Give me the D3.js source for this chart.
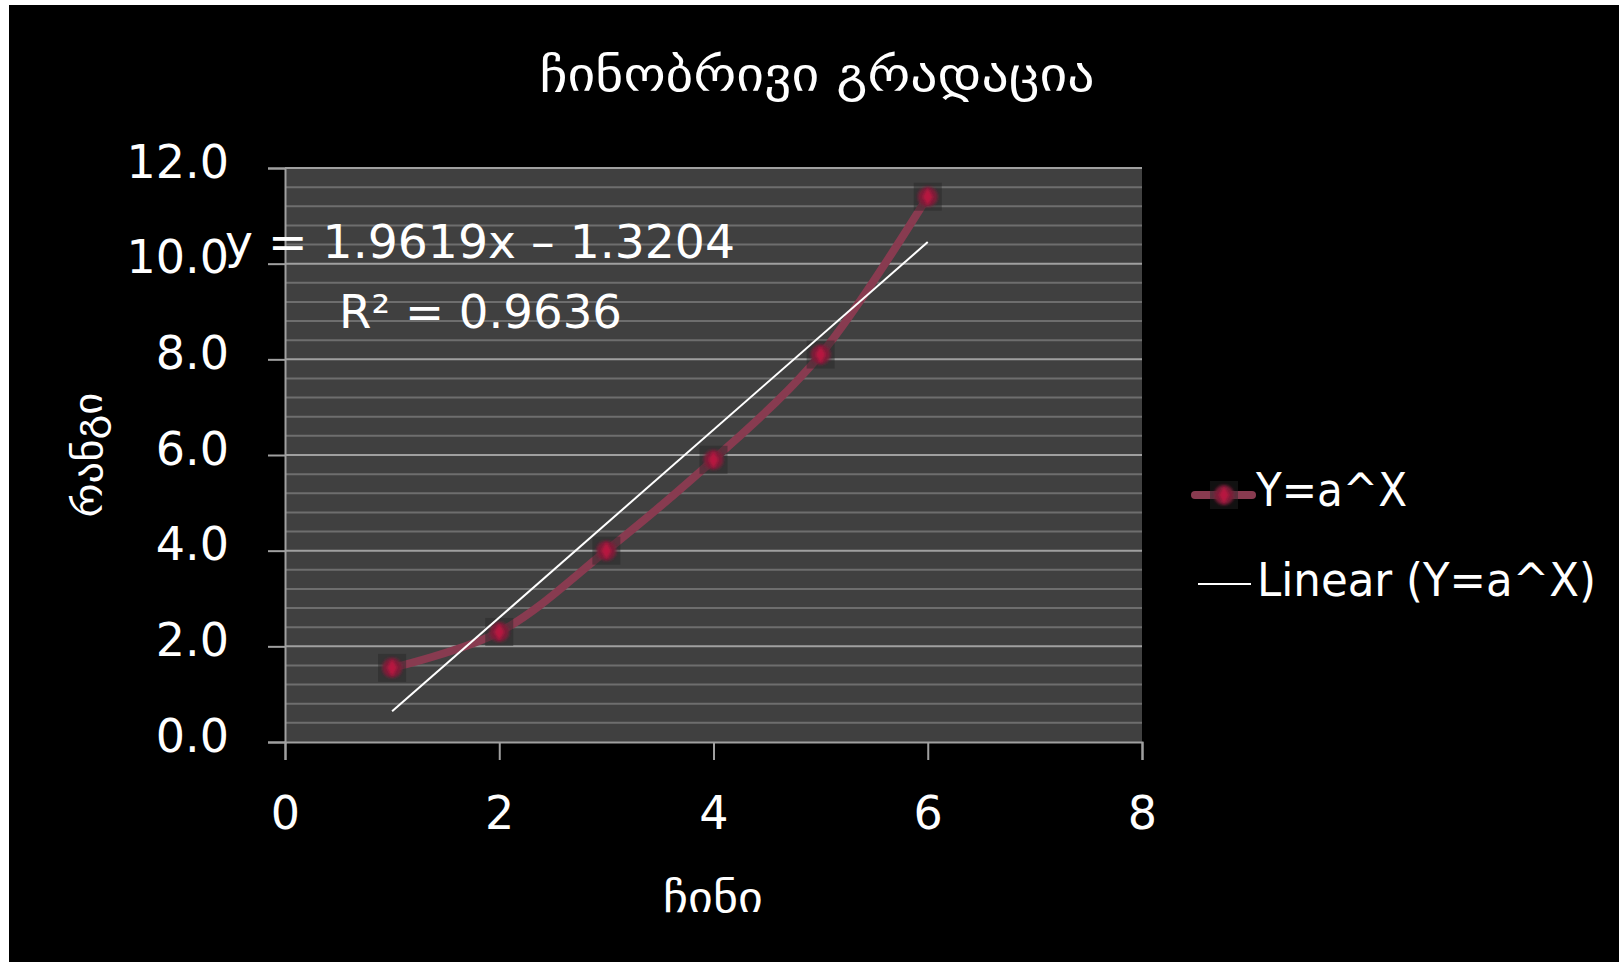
<!DOCTYPE html>
<html>
<head>
<meta charset="utf-8">
<script src="https://cdn.jsdelivr.net/npm/d3@7"></script>
<style>
  html, body { margin: 0; padding: 0; background: #ffffff; }
  svg { display: block; }
</style>
</head>
<body>
<svg id="chart" width="1619" height="962"></svg>
<script>
// ---- data ----
const xValues = [1, 2, 3, 4, 5, 6];
const yValues = [1.55, 2.3, 4.0, 5.9, 8.1, 11.4];
const seriesName = "Y=a^X";
const trendName = "Linear (Y=a^X)";
const trendSlope = 1.9619;
const trendIntercept = -1.3204;
const equationText = "y = 1.9619x – 1.3204";
const r2Text = "R² = 0.9636";
const yTicks = [0, 2, 4, 6, 8, 10, 12];
const xTicks = [0, 2, 4, 6, 8];
const titleText = "ჩინობრივი გრადაცია";
const xTitle = "ჩინი";
const yTitle = "რანგი";

// ---- layout ----
const svg = d3.select("#chart");
const W = 1619, H = 962;
const plot = { left: 285, right: 1142, top: 168, bottom: 742 };
const latin = "'DejaVu Sans', 'Open Sans', sans-serif";
const geo = "'DejaVu Sans', sans-serif";

const defs = svg.append("defs");
defs.append("filter").attr("id", "soft").attr("x", "-50%").attr("y", "-50%").attr("width", "200%").attr("height", "200%")
  .append("feGaussianBlur").attr("stdDeviation", 1.6);

svg.append("rect").attr("x", 9).attr("y", 5).attr("width", W - 9).attr("height", H - 5).attr("fill", "#000");

const x = d3.scaleLinear().domain([0, 8]).range([plot.left, plot.right]);
const y = d3.scaleLinear().domain([0, 12]).range([plot.bottom, plot.top]);

// plot background
svg.append("rect")
  .attr("x", plot.left).attr("y", plot.top)
  .attr("width", plot.right - plot.left).attr("height", plot.bottom - plot.top)
  .attr("fill", "#404040");

// minor gridlines
const minor = d3.range(0, 12.0001, 0.4).filter(v => Math.abs(v / 2 - Math.round(v / 2)) > 1e-6);
svg.append("g").selectAll("line").data(minor).join("line")
  .attr("x1", plot.left).attr("x2", plot.right)
  .attr("y1", d => y(d)).attr("y2", d => y(d))
  .attr("stroke", "#6e6e6e").attr("stroke-width", 2);

// major gridlines
svg.append("g").selectAll("line").data(yTicks.filter(d => d > 0)).join("line")
  .attr("x1", plot.left).attr("x2", plot.right)
  .attr("y1", d => y(d)).attr("y2", d => y(d))
  .attr("stroke", "#a0a0a0").attr("stroke-width", 2);

// y axis
const yAxis = svg.append("g").attr("transform", `translate(${plot.left},0)`)
  .call(d3.axisLeft(y).tickValues(yTicks).tickSize(17).tickFormat(d3.format(".1f")));
yAxis.select(".domain").attr("stroke", "#a0a0a0").attr("stroke-width", 2);
yAxis.selectAll(".tick line").attr("stroke", "#a0a0a0").attr("stroke-width", 2);
yAxis.selectAll(".tick text").attr("fill", "#fff").attr("font-family", latin).attr("font-size", 46)
  .attr("dy", 9).attr("x", -56);

// x axis
const xAxis = svg.append("g").attr("transform", `translate(0,${plot.bottom})`)
  .call(d3.axisBottom(x).tickValues(xTicks).tickSize(18).tickFormat(d3.format("d")));
xAxis.select(".domain").attr("stroke", "#a0a0a0").attr("stroke-width", 2);
xAxis.selectAll(".tick line").attr("stroke", "#a0a0a0").attr("stroke-width", 2);
xAxis.selectAll(".tick text").attr("fill", "#fff").attr("font-family", latin).attr("font-size", 46)
  .attr("y", 87).attr("dy", 0);

// series line (smoothed)
const pts = xValues.map((v, i) => [v, yValues[i]]);
const line = d3.line().x(d => x(d[0])).y(d => y(d[1])).curve(d3.curveCatmullRom.alpha(0.5));
svg.append("path").datum(pts)
  .attr("d", line).attr("fill", "none")
  .attr("stroke", "#883b50").attr("stroke-width", 8).attr("stroke-linecap", "round");

// markers
function marker(g, cx, cy) {
  g.append("rect").attr("x", cx - 14).attr("y", cy - 14).attr("width", 28).attr("height", 28)
    .attr("fill", "#262626").attr("opacity", 0.45);
  g.append("circle").attr("cx", cx).attr("cy", cy).attr("r", 10).attr("fill", "#7c1f37").attr("filter", "url(#soft)");
  g.append("path").attr("d", d3.symbol(d3.symbolDiamond, 90)()).attr("transform", `translate(${cx},${cy})`)
    .attr("fill", "#b8173f").attr("filter", "url(#soft)");
}
const mg = svg.append("g");
pts.forEach(d => marker(mg, x(d[0]), y(d[1])));

// trendline
const tx = d3.extent(xValues);
svg.append("line")
  .attr("x1", x(tx[0])).attr("y1", y(trendSlope * tx[0] + trendIntercept))
  .attr("x2", x(tx[1])).attr("y2", y(trendSlope * tx[1] + trendIntercept))
  .attr("stroke", "#fff").attr("stroke-width", 2);

// equation labels
svg.append("text").attr("x", 225).attr("y", 258).attr("fill", "#fff")
  .attr("font-family", latin).attr("font-size", 46).attr("textLength", 510).attr("lengthAdjust", "spacingAndGlyphs")
  .text(equationText);
svg.append("text").attr("x", 339).attr("y", 328).attr("fill", "#fff")
  .attr("font-family", latin).attr("font-size", 46).attr("textLength", 283).attr("lengthAdjust", "spacingAndGlyphs")
  .text(r2Text);

// title
svg.append("text").attr("x", 817).attr("y", 91).attr("text-anchor", "middle").attr("fill", "#fff")
  .attr("font-family", geo).attr("font-size", 48).attr("textLength", 555).attr("lengthAdjust", "spacingAndGlyphs")
  .text(titleText);

// axis titles
svg.append("text").attr("x", 713).attr("y", 912).attr("text-anchor", "middle").attr("fill", "#fff")
  .attr("font-family", geo).attr("font-size", 42).attr("textLength", 100).attr("lengthAdjust", "spacingAndGlyphs")
  .text(xTitle);
svg.append("text").attr("transform", "translate(102,455) rotate(-90)").attr("text-anchor", "middle").attr("fill", "#fff")
  .attr("font-family", geo).attr("font-size", 40).attr("textLength", 125).attr("lengthAdjust", "spacingAndGlyphs")
  .text(yTitle);

// legend
const lg = svg.append("g");
lg.append("line").attr("x1", 1195).attr("x2", 1252).attr("y1", 495).attr("y2", 495)
  .attr("stroke", "#883b50").attr("stroke-width", 8).attr("stroke-linecap", "round");
marker(lg, 1224, 495);
lg.append("text").attr("x", 1256).attr("y", 506).attr("fill", "#fff")
  .attr("font-family", latin).attr("font-size", 46).attr("textLength", 151).attr("lengthAdjust", "spacingAndGlyphs")
  .text(seriesName);
lg.append("line").attr("x1", 1198).attr("x2", 1251).attr("y1", 584).attr("y2", 584)
  .attr("stroke", "#fff").attr("stroke-width", 2);
lg.append("text").attr("x", 1257).attr("y", 596).attr("fill", "#fff")
  .attr("font-family", latin).attr("font-size", 46).attr("textLength", 339).attr("lengthAdjust", "spacingAndGlyphs")
  .text(trendName);
</script>
</body>
</html>
